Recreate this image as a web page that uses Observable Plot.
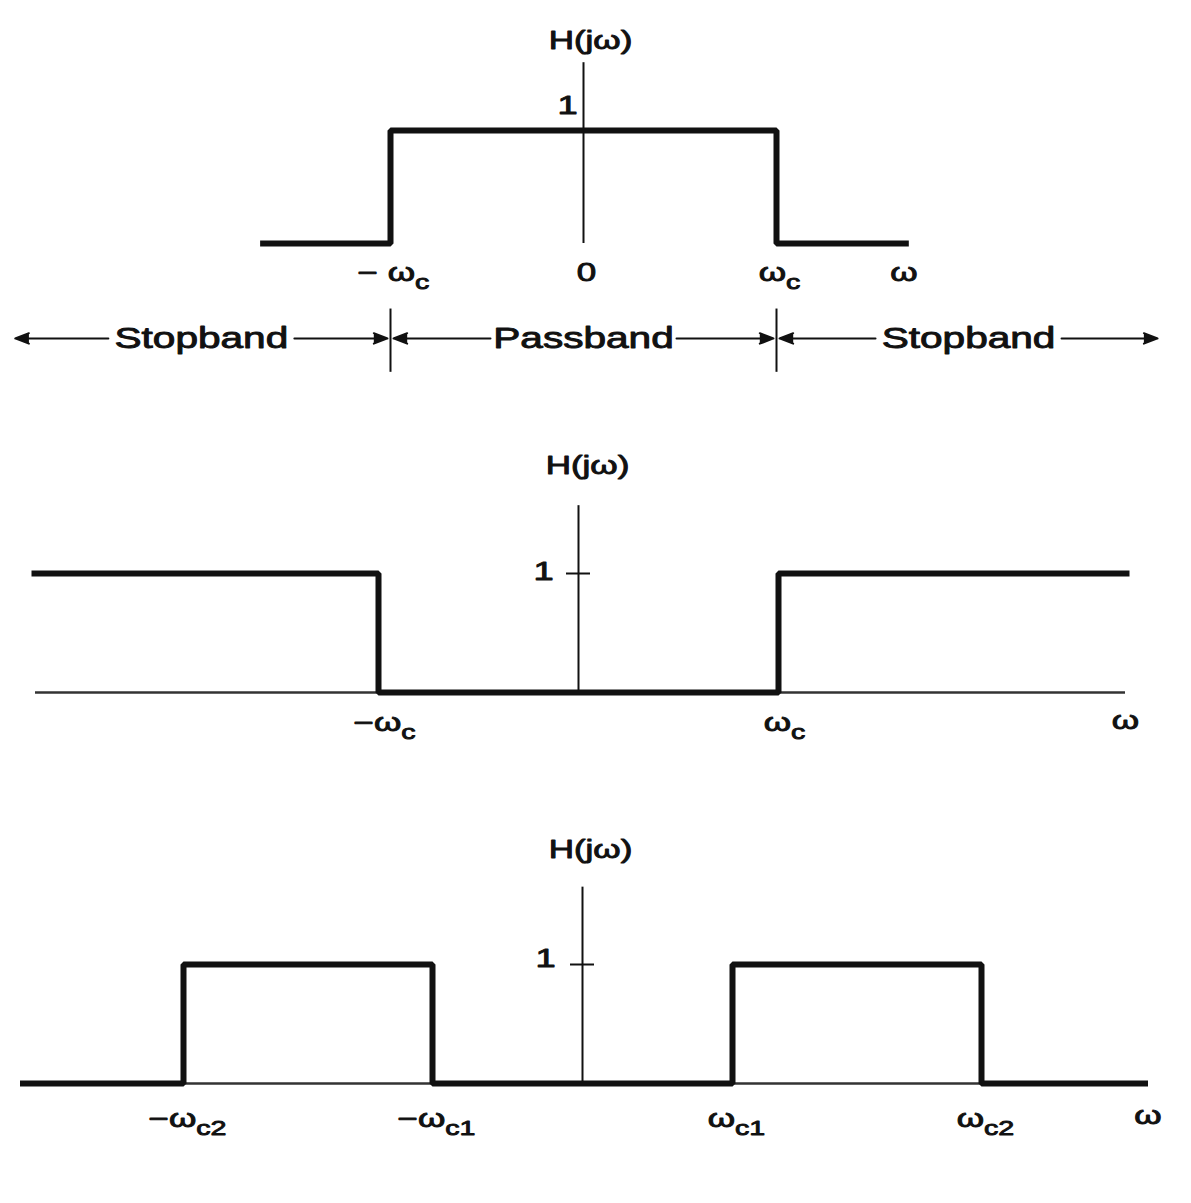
<!DOCTYPE html>
<html>
<head>
<meta charset="utf-8">
<script src="https://cdn.jsdelivr.net/npm/d3@7"></script>
<script src="https://cdn.jsdelivr.net/npm/@observablehq/plot@0.6"></script>
<style>
  body { margin: 0; background: #fff; }
  #chart { width: 1191px; background: #fff; }
  #chart svg { display: block; }
</style>
</head>
<body>
<div id="chart"></div>
<script>
// ---------- data ----------
// Panel 1: ideal lowpass  (ω in units of ωc)
const lowW = [-1.66, -1, -1, 1, 1, 1.67];
const lowH = [0, 0, 1, 1, 0, 0];
const lowTickW = [-1, 0, 1];
const lowTickLabels = ["\u2212 \u03c9_c", "0", "\u03c9_c"];
const lowAxisEnd = 1.66;

// band annotation under panel 1
const bandNames = ["Stopband", "Passband", "Stopband"];
const bandFrom = [-2.96, -1, 1];
const bandTo = [-1, 1, 2.99];
const bandEdges = [-1, 1];

// Panel 2: ideal highpass
const highW = [-2.72, -1, -1, 1, 1, 2.74];
const highH = [1, 1, 0, 0, 1, 1];
const highTickW = [-1, 1];
const highTickLabels = ["\u2212\u03c9_c", "\u03c9_c"];
const highAxisEnd = 2.735;

// Panel 3: ideal bandpass (ω in units of ωc1)
const bandW = [-3.73, -2.66, -2.66, -1, -1, 1, 1, 2.66, 2.66, 3.75];
const bandH = [0, 0, 1, 1, 0, 0, 1, 1, 0, 0];
const bandTickW = [-2.66, -1, 1, 2.66];
const bandTickLabels = ["\u2212\u03c9_c2", "\u2212\u03c9_c1", "\u03c9_c1", "\u03c9_c2"];
const bandAxisEnd = 3.77;

const yAxisLabel = "H(j\u03c9)";
const xAxisLabel = "\u03c9";
const unitLevel = [1];

// ---------- style ----------
const INK = "#111";
const FONT = "'Liberation Sans', Arial, Helvetica, sans-serif";
const zip = (W, H) => W.map((w, i) => ({w, h: H[i]}));
const ticks = (W, L) => W.map((w, i) => ({w, label: L[i]}));
const baseStyle = {fontFamily: FONT, background: "#fff", color: INK, overflow: "visible"};
const lineOpts = {x: "w", y: "h", stroke: INK, strokeWidth: 6, strokeLinejoin: "miter", strokeLinecap: "square"};
const txt = {fill: INK, stroke: INK, strokeWidth: 0.9};

// ---------- panel 1 ----------
const bands = bandNames.map((name, i) => ({name, from: bandFrom[i], to: bandTo[i], mid: (bandFrom[i] + bandTo[i]) / 2}));
const bandArrows = bands.flatMap(b => [{x1: b.mid, x2: b.from}, {x1: b.mid, x2: b.to}]);
const annY = -0.84;

const p1 = Plot.plot({
  width: 1191, height: 390, margin: 0,
  x: {domain: [-583 / 193, 608 / 193], range: [0, 1191], axis: null},
  y: {domain: [0, 1], range: [243, 130], axis: null},
  style: baseStyle,
  marks: [
    Plot.ruleX([0], {y1: 0, y2: 1.6, stroke: INK, strokeWidth: 2}),
    Plot.line(zip(lowW, lowH), lineOpts),
    Plot.text([yAxisLabel], {...txt, x: 0, y: 1.6, text: d => d, dx: 7, dy: -22, fontSize: 25}),
    Plot.text(unitLevel, {...txt, x: 0, y: d => d, text: d => String(d), dx: -16, dy: -25, fontSize: 26}),
    Plot.text(ticks(lowTickW, lowTickLabels), {...txt, x: "w", y: 0, text: "label", dx: 3, dy: 29, fontSize: 25}),
    Plot.text([xAxisLabel], {...txt, x: lowAxisEnd, y: 0, text: d => d, dy: 29, fontSize: 25}),
    Plot.ruleX(bandEdges, {x: d => d, y1: -0.58, y2: -1.14, stroke: INK, strokeWidth: 2}),
    Plot.text(bands, {...txt, x: "mid", y: annY, text: "name", fontSize: 29}),
    Plot.arrow(bandArrows, {x1: "x1", x2: "x2", y1: annY, y2: annY, insetStart: 93, insetEnd: 3,
      stroke: INK, fill: INK, strokeWidth: 2, strokeLinejoin: "miter", headLength: 11, headAngle: 42})
  ]
});

// ---------- panel 2 ----------
const p2 = Plot.plot({
  width: 1191, height: 390, margin: 0,
  x: {domain: [-578 / 200, 613 / 200], range: [0, 1191], axis: null},
  y: {domain: [0, 1], range: [302, 183], axis: null},
  style: baseStyle,
  marks: [
    Plot.ruleY([0], {x1: -2.715, x2: 2.735, stroke: "#333", strokeWidth: 2.5}),
    Plot.ruleX([0], {y1: 0, y2: 1.57, stroke: INK, strokeWidth: 2}),
    Plot.ruleY(unitLevel, {y: d => d, x1: -0.06, x2: 0.06, stroke: INK, strokeWidth: 2}),
    Plot.line(zip(highW, highH), lineOpts),
    Plot.text([yAxisLabel], {...txt, x: 0, y: 1.57, text: d => d, dx: 9, dy: -40, fontSize: 25}),
    Plot.text(unitLevel, {...txt, x: 0, y: d => d, text: d => String(d), dx: -35, dy: -2, fontSize: 26}),
    Plot.text(ticks(highTickW, highTickLabels), {...txt, x: "w", y: 0, text: "label", dx: 6, dy: 30, fontSize: 25}),
    Plot.text([xAxisLabel], {...txt, x: highAxisEnd, y: 0, text: d => d, dy: 28, fontSize: 25})
  ]
});

// ---------- panel 3 ----------
const p3 = Plot.plot({
  width: 1191, height: 423, margin: 0,
  x: {domain: [-582 / 150, 609 / 150], range: [0, 1191], axis: null},
  y: {domain: [0, 1], range: [303, 184], axis: null},
  style: baseStyle,
  marks: [
    Plot.ruleY([0], {x1: -3.73, x2: 3.75, stroke: "#333", strokeWidth: 2.5}),
    Plot.ruleX([0], {y1: 0, y2: 1.65, stroke: INK, strokeWidth: 2}),
    Plot.ruleY(unitLevel, {y: d => d, x1: -0.08, x2: 0.08, stroke: INK, strokeWidth: 2}),
    Plot.line(zip(bandW, bandH), lineOpts),
    Plot.text([yAxisLabel], {...txt, x: 0, y: 1.65, text: d => d, dx: 8, dy: -37, fontSize: 25}),
    Plot.text(unitLevel, {...txt, x: 0, y: d => d, text: d => String(d), dx: -37, dy: -6, fontSize: 26}),
    Plot.text(ticks(bandTickW, bandTickLabels), {...txt, x: "w", y: 0, text: "label", dx: 4, dy: 35, fontSize: 25}),
    Plot.text([xAxisLabel], {...txt, x: bandAxisEnd, y: 0, text: d => d, dy: 32, fontSize: 25})
  ]
});

// ---------- post: subscripts and wide lettering (the scan is horizontally stretched) ----------
const NS = "http://www.w3.org/2000/svg";
function finish(svg) {
  svg.querySelectorAll("text").forEach(t => {
    const s = t.textContent;
    if (s.includes("_")) {
      const [a, b] = s.split("_");
      t.textContent = a;
      const ts = document.createElementNS(NS, "tspan");
      ts.setAttribute("dy", "0.42em");
      ts.setAttribute("font-size", "0.82em");
      ts.textContent = b;
      t.appendChild(ts);
    }
    const tr = t.getAttribute("transform");
    if (tr) {
      t.setAttribute("transform", tr + " scale(1.4,1)");
    } else {
      const x = +t.getAttribute("x") || 0, y = +t.getAttribute("y") || 0;
      t.removeAttribute("x"); t.removeAttribute("y");
      t.setAttribute("transform", `translate(${x},${y}) scale(1.4,1)`);
    }
  });
  return svg;
}

const root = document.getElementById("chart");
[p1, p2, p3].forEach(p => root.appendChild(finish(p)));
</script>
</body>
</html>
